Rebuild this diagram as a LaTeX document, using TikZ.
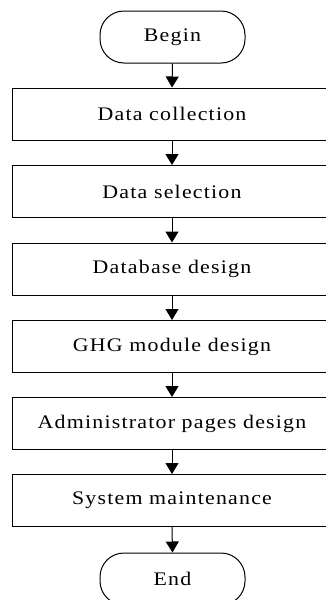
\documentclass[tikz,border=0pt]{standalone}
\usepackage{fontspec}
\setmainfont{Liberation Serif}[FakeStretch=1.14,LetterSpace=6.3]
\usetikzlibrary{arrows.meta}
\tikzset{
  procbox/.style={draw, line width=1pt, minimum width=320pt, minimum height=52pt, inner sep=0pt, font=\fontsize{19.2pt}{22pt}\selectfont},
  term/.style={draw, line width=1pt, rounded corners=24pt, minimum width=145pt, minimum height=52pt, inner sep=0pt, font=\fontsize{19.2pt}{22pt}\selectfont},
  flow/.style={line width=1pt, -{Triangle[length=11pt,width=13pt]}}
}
\begin{document}
\begin{tikzpicture}[x=1pt,y=-1pt]
\useasboundingbox (0,0) rectangle (326,600);
\node[term] (begin) at (172.5,37) {Begin};
\node[procbox] (b1) at (172,114) {Data collection};
\node[procbox] (b2) at (172,191.5) {Data selection};
\node[procbox] (b3) at (172,269) {Database design};
\node[procbox] (b4) at (172,346.5) {GHG module design};
\node[procbox] (b5) at (172,423.5) {Administrator pages design};
\node[procbox] (b6) at (172,500.5) {System maintenance};
\node[term] (end) at (172.5,579) {End};
\draw[flow] (begin.south) -- (b1.north);
\draw[flow] (b1) -- (b2);
\draw[flow] (b2) -- (b3);
\draw[flow] (b3) -- (b4);
\draw[flow] (b4) -- (b5);
\draw[flow] (b5) -- (b6);
\draw[flow] (b6.south) -- (end.north);
\end{tikzpicture}
\end{document}
